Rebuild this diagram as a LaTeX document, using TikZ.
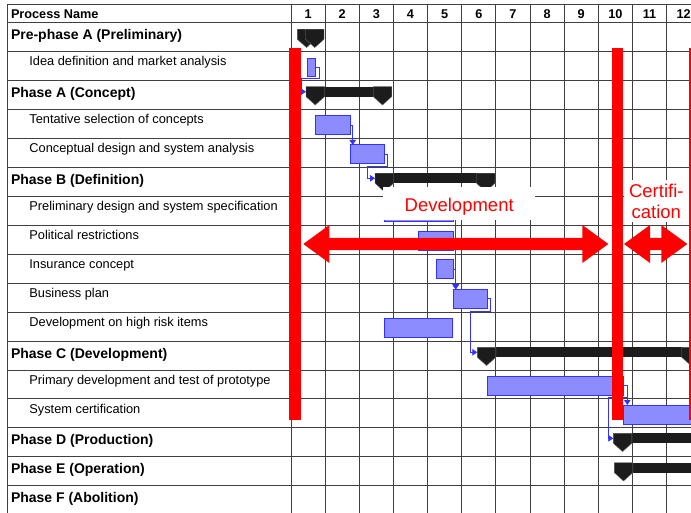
\documentclass[tikz,border=0pt]{standalone}
\usepackage{fontspec}
\setmainfont{Liberation Sans}
\usepackage{tikz}
\usetikzlibrary{arrows.meta,calc}

\definecolor{taskblue}{HTML}{3333FF}
\definecolor{taskfill}{HTML}{8C8CFF}
\definecolor{summaryblack}{HTML}{1C1C1C}

\begin{document}
\begin{tikzpicture}[x=1pt, y=-1pt,
  gridline/.style={draw=black!75, line width=0.9pt},
  colnum/.style={anchor=base, inner sep=0, font=\fontsize{12.7}{15}\selectfont\bfseries},
  phasename/.style={anchor=base west, inner sep=0, font=\fontsize{14}{16}\selectfont\bfseries},
  taskname/.style={anchor=base west, inner sep=0, font=\fontsize{12.8}{15}\selectfont},
  task/.style={draw=taskblue, fill=taskfill, line width=1pt, inner sep=0, outer sep=0, anchor=north west, minimum height=19pt},
  summary/.style={fill=summaryblack, inner sep=0, outer sep=0, anchor=north west, minimum height=10pt},
  link/.style={draw=taskblue, line width=0.85pt, -{Triangle[length=5pt,width=6.5pt]}},
  redbar/.style={fill=red, inner sep=0, outer sep=0, anchor=north west, minimum width=11.7pt, minimum height=371.7pt},
  redlabel/.style={text=red, fill=white, inner sep=0, font=\fontsize{18.5}{21.7}\selectfont},
  phasearrow/.style={fill=red, to path={-- ++(26,-19) -- ++(0,12.8) -- ($(\tikztotarget)+(-26,-6.2)$) -- ++(0,-12.8) -- (\tikztotarget) -- ++(-26,19) -- ++(0,-12.8) -- ($(\tikztostart)+(26,6.2)$) -- ++(0,12.8) -- cycle}}]

\useasboundingbox (0,0) rectangle (691,513);
\fill[white] (0,0) rectangle (691,513);
\clip (0,0) rectangle (691,513);

% Grid of the chart
\draw[gridline] (7,4.5) -- (691,4.5);
\foreach \k in {0,...,16}
  \draw[gridline] (7,22.7+28.94*\k) -- (691,22.7+28.94*\k);
\draw[gridline] (7,4.5) -- (7,513);
\foreach \j in {0,...,11}
  \draw[gridline] (291+34.15*\j,4.5) -- (291+34.15*\j,513);

% Header
\node[colnum, anchor=base west] (processName) at (10.8,19) {Process Name};
\foreach \j in {1,...,12}
  \node[colnum] (col\j) at (273.9+34.15*\j,19) {\j};

% Process names
\node[phasename] (prephaseA) at (10.8,39.7) {Pre-phase A (Preliminary)};
\node[taskname] (ideaDefinition) at (29.2,66) {Idea definition and market analysis};
\node[phasename] (phaseA) at (10.8,97.6) {Phase A (Concept)};
\node[taskname] (tentativeSelection) at (29.2,123.9) {Tentative selection of concepts};
\node[taskname] (conceptualDesign) at (29.2,152.9) {Conceptual design and system analysis};
\node[phasename] (phaseB) at (10.8,184.4) {Phase B (Definition)};
\node[taskname] (preliminaryDesign) at (29.2,210.7) {Preliminary design and system specification};
\node[taskname] (politicalRestrictions) at (29.2,239.7) {Political restrictions};
\node[taskname] (insuranceConcept) at (29.2,268.6) {Insurance concept};
\node[taskname] (businessPlan) at (29.2,297.6) {Business plan};
\node[taskname] (highRiskItems) at (29.2,326.5) {Development on high risk items};
\node[phasename] (phaseC) at (10.8,358) {Phase C (Development)};
\node[taskname] (primaryDevelopment) at (29.2,384.4) {Primary development and test of prototype};
\node[taskname] (systemCertification) at (29.2,413.3) {System certification};
\node[phasename] (phaseD) at (10.8,444.9) {Phase D (Production)};
\node[phasename] (phaseE) at (10.8,473.8) {Phase E (Operation)};
\node[phasename] (phaseF) at (10.8,502.7) {Phase F (Abolition)};

% Summary bars of the phases
\node[summary, minimum width=26.7pt] (preABar) at (297.3,29.3) {};
\node[summary, minimum width=85.7pt] (phaseABar) at (306,86.7) {};
\node[summary, minimum width=120pt] (phaseBBar) at (375,173.3) {};
\node[summary, minimum width=222.9pt] (phaseCBar) at (477.3,347.3) {};
\node[summary, minimum width=150pt] (phaseDBar) at (613.3,433.3) {};
\node[summary, minimum width=150pt] (phaseEBar) at (614.3,462.7) {};
\foreach \sbar in {preABar,phaseABar,phaseBBar,phaseCBar,phaseDBar,phaseEBar} {
  \filldraw[fill=summaryblack, draw=black!55, line width=0.4pt] (\sbar.north west) -- ++(18.5,0) -- ++(0,10) -- ++(-9.25,8.3) -- ++(-9.25,-8.3) -- cycle;
  \filldraw[fill=summaryblack, draw=black!55, line width=0.4pt] (\sbar.north east) -- ++(-18.5,0) -- ++(0,10) -- ++(9.25,8.3) -- ++(9.25,-8.3) -- cycle;
}

% Task bars
\node[task, minimum width=8.4pt, minimum height=18.4pt] (ideaBar) at (307.3,58.3) {};
\node[task, minimum width=35pt] (tentativeBar) at (315.3,115.7) {};
\node[task, minimum width=33.7pt] (conceptualBar) at (350.3,145) {};
\node[task, minimum width=69pt] (preliminaryBar) at (384.3,202.3) {};
\node[task, minimum width=35pt] (politicalBar) at (418.3,231.7) {};
\node[task, minimum width=17.3pt] (insuranceBar) at (436,260) {};
\node[task, minimum width=34pt] (businessBar) at (453.3,289.3) {};
\node[task, minimum width=68.4pt] (riskBar) at (384.3,318.3) {};
\node[task, minimum width=136pt] (primaryBar) at (487.3,376) {};
\node[task, minimum width=136pt] (systemBar) at (623.3,405) {};

% Links between the tasks
\draw[link] (ideaBar.east) -- ++(3.6,0) |- (301.7,78.7) |- (phaseABar.west);
\draw[link] (tentativeBar.east) -| ([xshift=2.4pt]conceptualBar.north west);
\draw[link] (conceptualBar.east) -- ++(3.3,0) |- (367.7,166) |- (phaseBBar.west);
\draw[link] (preliminaryBar.east) -| ([xshift=2.4pt]businessBar.north west);
\draw[link] (politicalBar.east) -| ([xshift=2.4pt]businessBar.north west);
\draw[link] (insuranceBar.east) -| ([xshift=2.4pt]businessBar.north west);
\draw[link] (businessBar.east) -- ++(3.4,0) |- (470.7,311) |- (phaseCBar.west);
\draw[link] (primaryBar.east) -| ([xshift=4pt]systemBar.north west);
\draw[link] (primaryBar.east) -- ++(4,0) |- (608.3,397.3) |- (phaseDBar.west);

% Stage labels
\node[redlabel, anchor=base, text height=25pt, text depth=8.3pt, minimum width=151.7pt] (devLabel) at (459.2,211.7) {Development};
\node[redlabel, align=center, minimum width=65pt, minimum height=42pt] (certLabel) at (656.3,201.5) {Certifi-\\cation};

% Stage borders and spans
\node[redbar] (redBarA) at (289.3,48.3) {};
\node[redbar] (redBarB) at (611.7,48.3) {};
\node[redbar] (redBarC) at (689.3,48.3) {};
\coordinate (devStart) at (303.3,244);
\coordinate (devEnd) at (608.3,244);
\coordinate (certStart) at (624,244);
\coordinate (certEnd) at (687.3,244);
\path[phasearrow] (devStart) to (devEnd);
\path[phasearrow] (certStart) to (certEnd);

\end{tikzpicture}
\end{document}
